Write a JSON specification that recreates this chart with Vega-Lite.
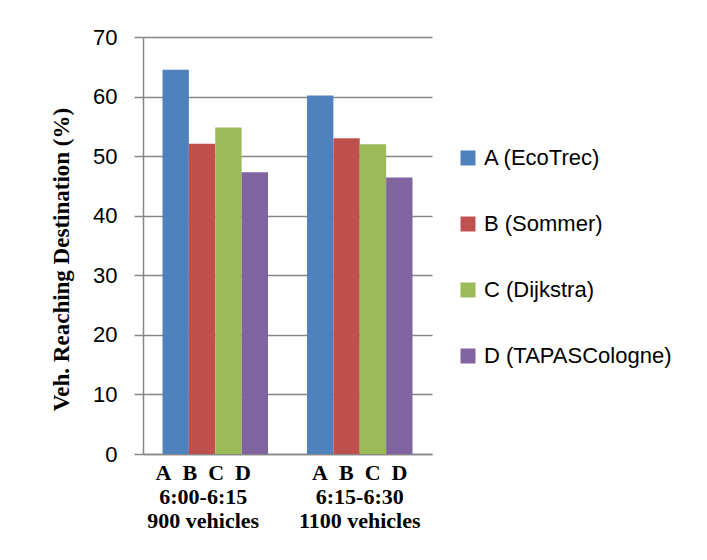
{
  "$schema": "https://vega.github.io/schema/vega-lite/v6.json",
  "autosize": {"type": "none"},
  "padding": {"left": 143, "top": 37, "right": 275, "bottom": 106},
  "width": 289,
  "height": 417,
  "background": "white",
  "data": {
    "values": [
      {"period": "A\u00a0 B\u00a0 C\u00a0 D|6:00-6:15|900 vehicles", "method": "A (EcoTrec)", "value": 64.5},
      {"period": "A\u00a0 B\u00a0 C\u00a0 D|6:00-6:15|900 vehicles", "method": "B (Sommer)", "value": 52.1},
      {"period": "A\u00a0 B\u00a0 C\u00a0 D|6:00-6:15|900 vehicles", "method": "C (Dijkstra)", "value": 54.8},
      {"period": "A\u00a0 B\u00a0 C\u00a0 D|6:00-6:15|900 vehicles", "method": "D (TAPASCologne)", "value": 47.3},
      {"period": "A\u00a0 B\u00a0 C\u00a0 D|6:15-6:30|1100 vehicles", "method": "A (EcoTrec)", "value": 60.2},
      {"period": "A\u00a0 B\u00a0 C\u00a0 D|6:15-6:30|1100 vehicles", "method": "B (Sommer)", "value": 53.0},
      {"period": "A\u00a0 B\u00a0 C\u00a0 D|6:15-6:30|1100 vehicles", "method": "C (Dijkstra)", "value": 52.0},
      {"period": "A\u00a0 B\u00a0 C\u00a0 D|6:15-6:30|1100 vehicles", "method": "D (TAPASCologne)", "value": 46.4}
    ]
  },
  "mark": {"type": "bar"},
  "encoding": {
    "x": {
      "field": "period",
      "type": "nominal",
      "sort": null,
      "scale": {"paddingInner": 0.27, "paddingOuter": 0.135},
      "axis": {
        "title": null,
        "labelAngle": 0,
        "labelExpr": "split(datum.label, '|')",
        "labelFont": "Liberation Serif",
        "labelFontWeight": "bold",
        "labelFontSize": 22,
        "labelLineHeight": 24,
        "labelColor": "black",
        "labelPadding": 8,
        "labelBaseline": "top",
        "labelOffset": {"condition": {"test": "datum.index == 0", "value": -12}, "value": 0},
        "ticks": false,
        "domainColor": "#868686",
        "domainWidth": 1.5,
        "labelLimit": 300
      }
    },
    "xOffset": {
      "field": "method",
      "type": "nominal",
      "scale": {"paddingInner": 0, "paddingOuter": 0}
    },
    "y": {
      "field": "value",
      "type": "quantitative",
      "scale": {"domain": [0, 70], "nice": false},
      "axis": {
        "title": "Veh. Reaching Destination (%)",
        "titleFont": "Liberation Serif",
        "titleFontWeight": "bold",
        "titleFontSize": 23,
        "titleColor": "black",
        "titleAngle": -90,
        "titleX": -82,
        "titleY": 222,
        "titleAlign": "center",
        "titleBaseline": "middle",
        "values": [0, 10, 20, 30, 40, 50, 60, 70],
        "labelFont": "Liberation Sans",
        "labelFontSize": 22,
        "labelColor": "black",
        "labelPadding": 17,
        "tickSize": 9,
        "tickColor": "#868686",
        "tickWidth": 1.5,
        "domainColor": "#868686",
        "domainWidth": 1.5,
        "grid": true,
        "gridColor": "#868686",
        "gridWidth": 1.5
      }
    },
    "color": {
      "field": "method",
      "type": "nominal",
      "scale": {
        "domain": ["A (EcoTrec)", "B (Sommer)", "C (Dijkstra)", "D (TAPASCologne)"],
        "range": ["#4F81BD", "#C0504D", "#9BBB59", "#8064A2"]
      },
      "legend": {
        "title": null,
        "orient": "none",
        "legendX": 314,
        "legendY": 110,
        "symbolType": "square",
        "symbolSize": 225,
        "symbolStrokeWidth": 0,
        "labelFont": "Liberation Sans",
        "labelFontSize": 22,
        "labelColor": "black",
        "labelOffset": 5,
        "rowPadding": 44,
        "labelLimit": 300
      }
    }
  },
  "config": {
    "view": {"stroke": null}
  }
}
